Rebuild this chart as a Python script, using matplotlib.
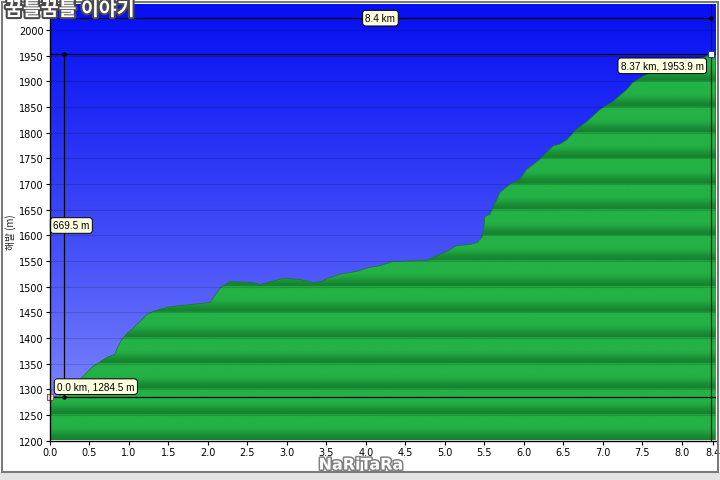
import numpy as np
import matplotlib
matplotlib.use('Agg')
import matplotlib.pyplot as plt
from matplotlib.patches import Polygon, Rectangle
import matplotlib.patheffects as pe

# ---- data ----
dist_km = [0.00, 0.10, 0.20, 0.29, 0.42, 0.54, 0.72, 0.82, 0.86, 0.91, 0.99, 1.04,
           1.14, 1.23, 1.31, 1.52, 2.03, 2.07, 2.16, 2.28, 2.57, 2.66, 2.95, 3.17,
           3.33, 3.44, 3.51, 3.67, 3.89, 4.01, 4.18, 4.34, 4.77, 4.85, 5.03, 5.15,
           5.32, 5.41, 5.47, 5.49, 5.51, 5.57, 5.64, 5.70, 5.83, 5.95, 6.04, 6.17,
           6.24, 6.37, 6.46, 6.55, 6.67, 6.80, 6.97, 7.13, 7.31, 7.38, 7.51, 7.65,
           7.81, 8.00, 8.16, 8.30, 8.37, 8.43]
elev_m = [1284.5, 1286, 1292, 1305, 1325, 1344, 1362, 1368, 1383, 1397, 1411, 1417,
          1432, 1446, 1452, 1461, 1469, 1479, 1498, 1510, 1508, 1504, 1516, 1514,
          1508, 1510, 1516, 1524, 1530, 1536, 1541, 1549, 1551, 1557, 1569, 1580,
          1582, 1586, 1596, 1612, 1637, 1641, 1664, 1684, 1700, 1709, 1729, 1744,
          1754, 1774, 1778, 1787, 1807, 1822, 1846, 1861, 1885, 1898, 1910, 1920,
          1932, 1940, 1944, 1948, 1953.9, 1953.9]
x_ticks = [0.0, 0.5, 1.0, 1.5, 2.0, 2.5, 3.0, 3.5, 4.0, 4.5, 5.0, 5.5, 6.0, 6.5,
           7.0, 7.5, 8.0, 8.4]
x_tick_labels = ['0.0', '0.5', '1.0', '1.5', '2.0', '2.5', '3.0', '3.5', '4.0', '4.5',
                 '5.0', '5.5', '6.0', '6.5', '7.0', '7.5', '8.0', '8.4']
y_ticks = list(range(1200, 2001, 50))
start_km, start_m = 0.0, 1284.5
end_km, end_m = 8.37, 1953.9
total_label = '8.4 km'
climb_label = '669.5 m'
start_label = '0.0 km, 1284.5 m'
end_label = '8.37 km, 1953.9 m'
y_label = '해발 (m)'
watermark_top = '꿈틀꿈틀 이야기'
watermark_bottom = 'NaRiTaRa'

# ---- figure ----
fig = plt.figure(figsize=(7.2, 4.81), dpi=100)
fig.patch.set_facecolor('white')

# outer frame
fig.patches.append(Rectangle((0, 0), 1, 8 / 481, transform=fig.transFigure,
                             facecolor='#e4e4e4', edgecolor='none', zorder=0))
fig.patches.append(Rectangle((2 / 720, 8 / 481), 716 / 720, 470 / 481,
                             transform=fig.transFigure, facecolor='none',
                             edgecolor='#7a7a7a', lw=1.5, zorder=0))

ax = fig.add_axes([50 / 720, 39.5 / 481, 665.6 / 720, 437 / 481])
xmax, ymin, ymax = 8.43, 1200, 2052

# blue gradient background
n = 600
t = np.linspace(0, 1, n)[:, None]
top_c = np.array([0.02, 0.06, 0.95])
bot_c = np.array([0.60, 0.64, 1.0])
blue = bot_c + (top_c - bot_c) * (t ** 0.7)
blue_img = np.repeat(blue[:, None, :], 2, axis=1)
ax.imshow(blue_img, extent=[0, xmax, ymin, ymax], origin='lower', aspect='auto',
          interpolation='bilinear', zorder=0)

# banded green terrain
yy = np.linspace(ymin, ymax, 1800)
f = ((yy - ymin) % 50) / 50.0
b = np.clip(f / 0.55, 0, 1)
b = b * b * (3 - 2 * b)
dark = np.array([22, 130, 48]) / 255
bright = np.array([36, 178, 70]) / 255
green = dark + (bright - dark) * b[:, None]
green_img = np.repeat(green[:, None, :], 2, axis=1)
gim = ax.imshow(green_img, extent=[0, xmax, ymin, ymax], origin='lower',
                aspect='auto', interpolation='bilinear', zorder=1)
verts = list(zip(dist_km, elev_m)) + [(dist_km[-1], ymin), (dist_km[0], ymin)]
poly = Polygon(verts, closed=True, facecolor='none', edgecolor='none',
               transform=ax.transData)
ax.add_patch(poly)
gim.set_clip_path(poly)
ax.plot(dist_km, elev_m, color='#17782e', lw=0.5, zorder=2)

ax.set_xlim(0, xmax)
ax.set_ylim(ymin, ymax)

# grid lines
for yv in y_ticks:
    ax.axhline(yv, color='black', alpha=0.15, lw=0.8, zorder=2)

# reference lines
ax.axhline(start_m, color='black', lw=0.9, zorder=4)
ax.axhline(end_m, color='black', lw=0.9, zorder=4)
ax.axvline(end_km, color='#1a1a1a', lw=0.9, zorder=4)

# dimension lines
dim_x = 0.18
ax.plot([dim_x, dim_x], [start_m, end_m], color='black', lw=0.9, zorder=4)
ax.plot([dim_x, dim_x], [start_m, end_m], 'o', color='black', ms=2.2, zorder=5)
dim_y = 2023.4
ax.plot([0, end_km], [dim_y, dim_y], color='black', lw=0.9, zorder=4)
ax.plot([end_km], [dim_y], 'o', color='black', ms=2.2, zorder=5)

# point markers
ax.plot([start_km], [start_m], 's', ms=4, mfc='#f4e4e4', mec='#c04040', mew=0.8,
        zorder=6, clip_on=False)
ax.plot([end_km], [end_m], 's', ms=4, mfc='white', mec='#2040a0', mew=0.8,
        zorder=6, clip_on=False)

box = dict(boxstyle='round,pad=0.28,rounding_size=0.3', fc='#ffffe1', ec='black', lw=0.7)
tfont = dict(family='Liberation Sans', fontsize=7.2, color='black', zorder=7)
ax.text(end_km / 2, dim_y, total_label, ha='center', va='center', bbox=box, **tfont)
ax.text(0.04, (start_m + end_m) / 2, climb_label, ha='left', va='center', bbox=box, **tfont)
ax.text(0.09, 1305, start_label, ha='left', va='center', bbox=box, **tfont)
ax.text(8.28, 1930.5, end_label, ha='right', va='center', bbox=box, **tfont)

# axes styling
for s in ['top', 'right']:
    ax.spines[s].set_visible(False)
for s in ['left', 'bottom']:
    ax.spines[s].set_color('black')
    ax.spines[s].set_linewidth(1.0)
    ax.spines[s].set_zorder(8)
ax.set_xticks(x_ticks)
ax.set_xticklabels(x_tick_labels)
ax.set_yticks(y_ticks)
ax.set_yticklabels([str(v) for v in y_ticks])
ax.tick_params(axis='both', labelsize=7, length=3, width=0.8, color='black',
               direction='out', pad=1.5)
for lab in ax.get_xticklabels() + ax.get_yticklabels():
    lab.set_family('DejaVu Sans')

fig.text(11 / 720, 1 - 232 / 481, y_label, rotation=90, ha='center', va='center',
         fontsize=7, family=['Noto Sans CJK KR', 'DejaVu Sans'], color='#222222')

# watermarks
fig.text(5 / 720, 1 - 11 / 481, watermark_top, ha='left', va='center', fontsize=14,
         fontweight='bold', family=['Noto Sans CJK KR', 'DejaVu Sans'], color='white',
         zorder=10, path_effects=[pe.withStroke(linewidth=3, foreground='#4a4a4a')])
fig.text(361 / 720, 1 - 466 / 481, watermark_bottom, ha='center', va='center',
         fontsize=11.5, fontweight='bold', family='DejaVu Sans', color='white',
         zorder=10, path_effects=[pe.withStroke(linewidth=2.2, foreground='#808080')])

fig.savefig('out.png', dpi=100)
